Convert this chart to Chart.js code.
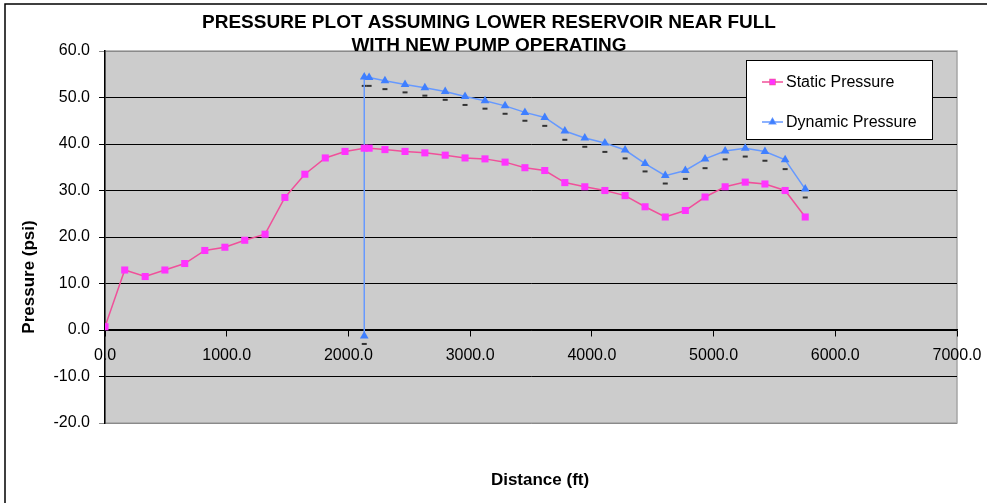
<!DOCTYPE html>
<html>
<head>
<meta charset="utf-8">
<script src="https://cdn.jsdelivr.net/npm/chart.js@4"></script>
<style>
  body { margin: 0; background: #fff; }
  #grafico { display: block; }
</style>
</head>
<body>
<canvas id="grafico" width="987" height="503"></canvas>
<script>
// datos
const distancia = [0, 162, 330, 492, 655, 820, 985, 1148, 1315, 1478, 1642, 1810, 1972,
  2130, 2170, 2300, 2465, 2628, 2795, 2958, 3122, 3287, 3450, 3613, 3778,
  3942, 4107, 4273, 4437, 4603, 4768, 4930, 5095, 5260, 5422, 5588, 5753];
const presionEstatica = [0.7, 12.9, 11.5, 12.9, 14.3, 17.1, 17.8, 19.3, 20.6, 28.5, 33.5, 37.0, 38.4,
  39.1, 39.1, 38.8, 38.4, 38.1, 37.6, 37.0, 36.8, 36.1, 34.9, 34.3, 31.7,
  30.8, 30.0, 28.9, 26.5, 24.3, 25.7, 28.6, 30.8, 31.8, 31.4, 30.0, 24.3];

const distanciaDinamica = [2130, 2130, 2170, 2300, 2465, 2628, 2795, 2958, 3122, 3287, 3450, 3613, 3778,
  3942, 4107, 4273, 4437, 4603, 4768, 4930, 5095, 5260, 5422, 5588, 5753];
const presionDinamica = [-1.3, 54.4, 54.3, 53.6, 52.8, 52.1, 51.3, 50.2, 49.3, 48.2, 46.8, 45.7, 42.8,
  41.3, 40.2, 38.7, 35.8, 33.2, 34.3, 36.8, 38.5, 39.1, 38.4, 36.6, 30.3];
// marcas pequeñas debajo de cada triangulo
const marcasDinamica = [-3.0, 52.5, 52.5, 51.8, 51.1, 50.4, 49.5, 48.4, 47.6, 46.5, 45.0, 43.9, 40.9,
  39.4, 38.3, 36.9, 34.1, 31.5, 32.5, 34.8, 36.7, 37.3, 36.4, 34.6, 28.5];

const titulo = ['PRESSURE PLOT ASSUMING LOWER RESERVOIR NEAR FULL', 'WITH NEW PUMP OPERATING'];
const nombresSeries = ['Static Pressure', 'Dynamic Pressure'];

const colorEstaticaLinea = '#f0509a';
const colorEstaticaPunto = '#ff33ff';
const colorDinamicaLinea = '#6699ff';
const colorDinamicaPunto = '#3f7fff';
const fuente = '"Liberation Sans", Arial, sans-serif';

function armarPuntos(xs, ys) {
  const puntos = [];
  for (let i = 0; i < xs.length; i++) {
    puntos.push({ x: xs[i], y: ys[i] });
  }
  return puntos;
}

// fondo gris, marco, titulos y leyenda
const decorado = {
  id: 'decorado',
  beforeDraw(chart) {
    const { ctx, chartArea: a } = chart;
    ctx.save();
    ctx.fillStyle = '#fff';
    ctx.fillRect(0, 0, chart.width, chart.height);
    ctx.strokeStyle = '#000';
    ctx.lineWidth = 1.5;
    ctx.beginPath();
    ctx.moveTo(5, chart.height);
    ctx.lineTo(5, 4);
    ctx.lineTo(chart.width, 4);
    ctx.stroke();
    ctx.fillStyle = '#cccccc';
    ctx.fillRect(a.left, a.top, a.right - a.left, a.bottom - a.top);
    ctx.strokeStyle = '#a6a6a6';
    ctx.lineWidth = 1.5;
    ctx.strokeRect(a.left, a.top, a.right - a.left, a.bottom - a.top);
    ctx.restore();
  },
  afterDraw(chart) {
    const { ctx } = chart;
    ctx.save();
    ctx.fillStyle = '#000';
    ctx.textAlign = 'center';
    ctx.textBaseline = 'middle';
    ctx.font = 'bold 19px ' + fuente;
    ctx.fillText(titulo[0], 489, 23);
    ctx.fillText(titulo[1], 489, 46);

    ctx.font = 'bold 17px ' + fuente;
    ctx.fillText('Distance (ft)', 540, 480);
    ctx.save();
    ctx.translate(29, 277);
    ctx.rotate(-Math.PI / 2);
    ctx.fillText('Pressure (psi)', 0, 0);
    ctx.restore();

    // leyenda
    ctx.fillStyle = '#fff';
    ctx.fillRect(746, 60, 187, 80);
    ctx.strokeStyle = '#000';
    ctx.lineWidth = 1;
    ctx.strokeRect(746.5, 60.5, 186, 79);
    const filas = [
      { y: 82, linea: colorEstaticaLinea, punto: colorEstaticaPunto, estilo: 'rect' },
      { y: 122, linea: colorDinamicaLinea, punto: colorDinamicaPunto, estilo: 'triangle' }
    ];
    filas.forEach((f, i) => {
      ctx.strokeStyle = f.linea;
      ctx.lineWidth = 1.5;
      ctx.beginPath();
      ctx.moveTo(762, f.y);
      ctx.lineTo(783, f.y);
      ctx.stroke();
      Chart.helpers.drawPoint(ctx, { pointStyle: f.estilo, radius: 3.5, borderWidth: 1, rotation: 0 }, 772.5, f.y);
      ctx.fillStyle = f.punto;
      ctx.strokeStyle = f.punto;
      ctx.fill();
      ctx.fillStyle = '#000';
      ctx.textAlign = 'left';
      ctx.font = '16px ' + fuente;
      ctx.fillText(nombresSeries[i], 786, f.y + 1);
    });
    ctx.restore();
  }
};

const canvas = document.getElementById('grafico');
new Chart(canvas, {
  type: 'scatter',
  data: {
    datasets: [
      {
        label: nombresSeries[0],
        data: armarPuntos(distancia, presionEstatica),
        showLine: true,
        borderColor: colorEstaticaLinea,
        borderWidth: 1.5,
        pointStyle: 'rect',
        pointRadius: 5,
        pointBackgroundColor: colorEstaticaPunto,
        pointBorderColor: colorEstaticaPunto,
        pointBorderWidth: 0
      },
      {
        label: nombresSeries[1],
        data: armarPuntos(distanciaDinamica, presionDinamica),
        showLine: true,
        borderColor: colorDinamicaLinea,
        borderWidth: 1.5,
        pointStyle: 'triangle',
        pointRadius: 5,
        pointBackgroundColor: colorDinamicaPunto,
        pointBorderColor: colorDinamicaPunto,
        pointBorderWidth: 0
      },
      {
        label: 'marcas',
        data: armarPuntos(distanciaDinamica, marcasDinamica),
        showLine: false,
        pointStyle: 'line',
        pointRadius: 2.5,
        pointBorderColor: '#333',
        pointBorderWidth: 2
      }
    ]
  },
  options: {
    responsive: false,
    animation: false,
    events: [],
    layout: { padding: { left: 0, top: 51, right: 30, bottom: 80 } },
    plugins: {
      legend: { display: false },
      title: { display: false },
      tooltip: { enabled: false }
    },
    scales: {
      x: {
        type: 'linear',
        position: { y: 0 },
        min: 0,
        max: 7000,
        afterFit(scale) { scale.paddingRight = 0; scale.paddingLeft = 0; },
        ticks: {
          stepSize: 1000,
          color: '#000',
          padding: 10,
          maxRotation: 0,
          font: { family: fuente, size: 16 },
          callback: v => v.toFixed(1)
        },
        grid: { drawOnChartArea: false, drawTicks: true, tickLength: 6, color: '#000' },
        border: { display: true, color: '#000', width: 1.5 }
      },
      y: {
        min: -20,
        max: 60,
        afterFit(scale) { scale.width = 105; },
        ticks: {
          stepSize: 10,
          color: '#000',
          padding: 9,
          font: { family: fuente, size: 16 },
          callback: v => v.toFixed(1)
        },
        grid: {
          tickLength: 6,
          lineWidth: 1,
          color: c => (c.tick && (c.tick.value === 60 || c.tick.value === -20)) ? '#8a8a8a' : '#000'
        },
        border: { display: true, color: '#000', width: 1.5 }
      }
    }
  },
  plugins: [decorado]
});
</script>
</body>
</html>
